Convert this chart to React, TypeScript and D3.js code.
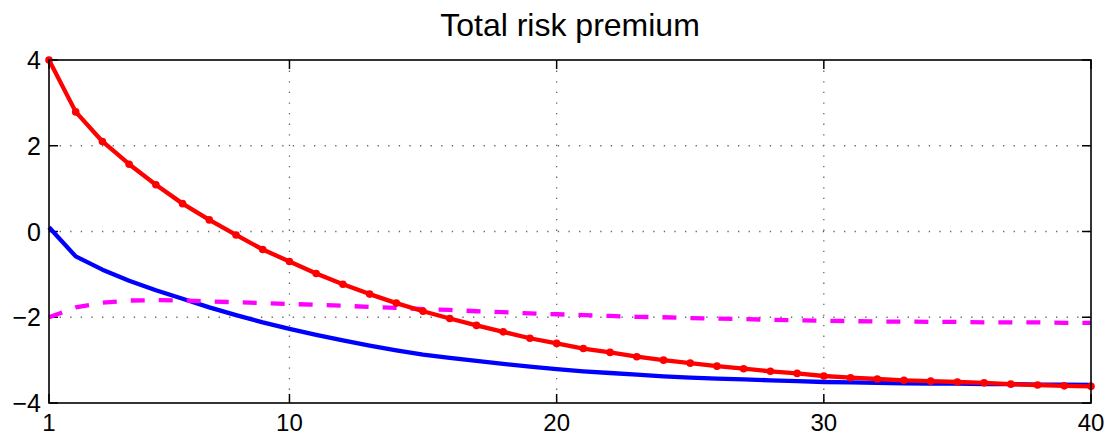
import { useEffect, useRef } from 'react';
import * as d3 from 'd3';

const periods = d3.range(1, 41);

const totalPremium = [
  4.0, 2.79, 2.1, 1.57, 1.09, 0.65, 0.27, -0.08, -0.42, -0.7,
  -0.98, -1.23, -1.46, -1.67, -1.86, -2.03, -2.19, -2.34, -2.49, -2.61,
  -2.73, -2.82, -2.92, -3.0, -3.07, -3.14, -3.2, -3.26, -3.31, -3.37,
  -3.41, -3.44, -3.47, -3.49, -3.51, -3.53, -3.56, -3.58, -3.6, -3.61,
];

const bluePremium = [
  0.1, -0.58, -0.89, -1.15, -1.37, -1.57, -1.77, -1.95, -2.12, -2.27,
  -2.41, -2.54, -2.66, -2.77, -2.87, -2.95, -3.02, -3.09, -3.15, -3.21,
  -3.26, -3.3, -3.34, -3.38, -3.41, -3.43, -3.45, -3.47, -3.49, -3.51,
  -3.52, -3.53, -3.54, -3.55, -3.55, -3.56, -3.56, -3.57, -3.57, -3.58,
];

const dashedPremium = [
  -2.0, -1.77, -1.66, -1.61, -1.6, -1.61, -1.63, -1.65, -1.67, -1.69,
  -1.71, -1.73, -1.76, -1.78, -1.81, -1.83, -1.86, -1.88, -1.91, -1.93,
  -1.95, -1.97, -1.99, -2.0, -2.02, -2.03, -2.04, -2.06, -2.07, -2.08,
  -2.09, -2.1, -2.1, -2.11, -2.11, -2.12, -2.12, -2.12, -2.13, -2.13,
];

const xTicks = [1, 10, 20, 30, 40];
const yTicks = [-4, -2, 0, 2, 4];

export default function App() {
  const svgRef = useRef<SVGSVGElement>(null);

  useEffect(() => {
    if (!svgRef.current) return;
    const svg = d3.select(svgRef.current);
    svg.selectAll('*').remove();

    const W = 1110;
    const H = 438;
    const margin = { top: 60, right: 19, bottom: 35, left: 49 };
    const width = W - margin.left - margin.right;
    const height = H - margin.top - margin.bottom;
    const font = '"Liberation Sans", Arial, Helvetica, sans-serif';

    const x = d3.scaleLinear().domain([1, 40]).range([0, width]);
    const y = d3.scaleLinear().domain([-4, 4]).range([height, 0]);

    const g = svg.append('g')
      .attr('transform', `translate(${margin.left},${margin.top})`);

    // dotted grid
    g.selectAll('.gx')
      .data(xTicks.filter(t => t !== 1 && t !== 40))
      .enter()
      .append('line')
      .attr('x1', d => x(d)).attr('x2', d => x(d))
      .attr('y1', 0).attr('y2', height)
      .attr('stroke', '#666')
      .attr('stroke-width', 1.3)
      .attr('stroke-dasharray', '1.3,9.3');

    g.selectAll('.gy')
      .data(yTicks.filter(t => t !== -4 && t !== 4))
      .enter()
      .append('line')
      .attr('x1', 0).attr('x2', width)
      .attr('y1', d => y(d)).attr('y2', d => y(d))
      .attr('stroke', '#666')
      .attr('stroke-width', 1.3)
      .attr('stroke-dasharray', '1.3,9.3');

    // inward ticks on all sides
    const tickLen = 9;
    xTicks.forEach(t => {
      g.append('line').attr('x1', x(t)).attr('x2', x(t)).attr('y1', height).attr('y2', height - tickLen)
        .attr('stroke', '#000').attr('stroke-width', 1.5);
      g.append('line').attr('x1', x(t)).attr('x2', x(t)).attr('y1', 0).attr('y2', tickLen)
        .attr('stroke', '#000').attr('stroke-width', 1.5);
    });
    yTicks.forEach(t => {
      g.append('line').attr('x1', 0).attr('x2', tickLen).attr('y1', y(t)).attr('y2', y(t))
        .attr('stroke', '#000').attr('stroke-width', 1.5);
      g.append('line').attr('x1', width).attr('x2', width - tickLen).attr('y1', y(t)).attr('y2', y(t))
        .attr('stroke', '#000').attr('stroke-width', 1.5);
    });

    // tick labels
    g.selectAll('.xl')
      .data(xTicks)
      .enter()
      .append('text')
      .attr('x', d => x(d))
      .attr('y', height + 28)
      .attr('text-anchor', 'middle')
      .attr('font-family', font)
      .attr('font-size', 24)
      .text(d => String(d));

    g.selectAll('.yl')
      .data(yTicks)
      .enter()
      .append('text')
      .attr('x', -8)
      .attr('y', d => y(d) + 9)
      .attr('text-anchor', 'end')
      .attr('font-family', font)
      .attr('font-size', 25)
      .text(d => (d < 0 ? '\u2212' + Math.abs(d) : String(d)));

    const line = (vals: number[]) =>
      d3.line<number>()
        .x((_, i) => x(periods[i]))
        .y(d => y(d))(vals);

    g.append('path')
      .attr('d', line(bluePremium))
      .attr('fill', 'none')
      .attr('stroke', '#0000ff')
      .attr('stroke-width', 4.3)
      .attr('stroke-linejoin', 'round');

    g.append('path')
      .attr('d', line(dashedPremium))
      .attr('fill', 'none')
      .attr('stroke', '#ff00ff')
      .attr('stroke-width', 4.3)
      .attr('stroke-dasharray', '14,14');

    g.append('path')
      .attr('d', line(totalPremium))
      .attr('fill', 'none')
      .attr('stroke', '#ff0000')
      .attr('stroke-width', 4.3)
      .attr('stroke-linejoin', 'round');

    g.selectAll('.dot')
      .data(totalPremium)
      .enter()
      .append('circle')
      .attr('cx', (_, i) => x(periods[i]))
      .attr('cy', d => y(d))
      .attr('r', 3.8)
      .attr('fill', '#ff0000');

    // axis box
    g.append('rect')
      .attr('x', 0).attr('y', 0)
      .attr('width', width).attr('height', height)
      .attr('fill', 'none')
      .attr('stroke', '#000')
      .attr('stroke-width', 1.6);

    svg.append('text')
      .attr('x', margin.left + width / 2)
      .attr('y', 36)
      .attr('text-anchor', 'middle')
      .attr('font-family', font)
      .attr('font-size', 32)
      .text('Total risk premium');
  }, []);

  return (
    <svg
      ref={svgRef}
      width={1110}
      height={438}
      style={{ position: 'absolute', left: 0, top: 0, background: '#fff' }}
    />
  );
}
